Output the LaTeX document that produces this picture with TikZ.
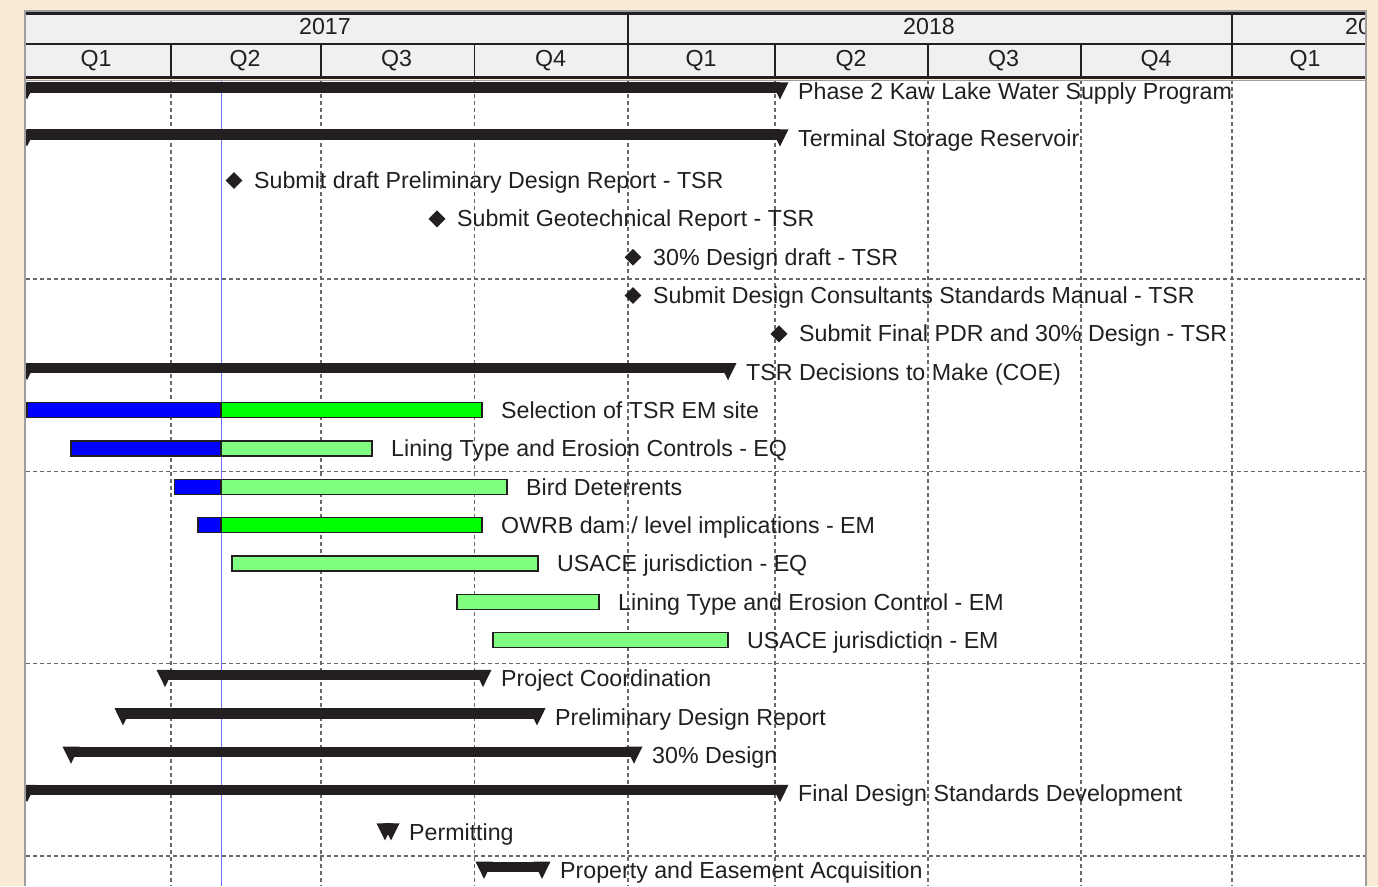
\documentclass[tikz,border=0pt]{standalone}
\usepackage{fontspec}
\setmainfont{Liberation Sans}
\usetikzlibrary{shapes.geometric}

\definecolor{pagebg}{RGB}{250,235,215}
\definecolor{hdrbg}{RGB}{240,240,242}
\definecolor{ink}{RGB}{35,31,32}
\definecolor{framegray}{RGB}{158,158,158}
\definecolor{gridgray}{RGB}{105,105,105}
\definecolor{todayblue}{RGB}{110,110,255}
\definecolor{donefill}{RGB}{0,0,255}
\definecolor{critfill}{RGB}{0,255,0}
\definecolor{taskfill}{RGB}{128,255,128}

\newcommand\chartfont{\fontsize{23.2}{27}\selectfont}

\tikzset{
  lbl/.style={anchor=base west, inner sep=0pt, text=ink, font=\chartfont},
  hdr/.style={anchor=center, inner sep=0pt, text=ink, font=\chartfont},
  gridline/.style={gridgray, line width=1.1pt, dash pattern=on 4pt off 3pt},
  barbox/.style={draw=ink, line width=1.4pt},
  mstone/.style={shape=diamond, fill=ink, inner sep=0pt, minimum width=17pt, minimum height=17pt},
  hdrrule/.style={ink, line width=2.5pt},
  hdrsep/.style={ink, line width=1.8pt},
}

% summary bar: name, start x, end x, text y, label
\newcommand\SummaryRow[5]{%
  \pgfmathsetmacro\sy{#4-3.5}%
  \fill[ink] (#2,\sy-5.2) rectangle (#3,\sy+5.2);
  \fill[ink] (#2-8.5,\sy-5.2) -- (#2+8.5,\sy-5.2) -- (#2,\sy+12) -- cycle;
  \fill[ink] (#3-8.5,\sy-5.2) -- (#3+8.5,\sy-5.2) -- (#3,\sy+12) -- cycle;
  \node[lbl] (#1) at (#3+18,#4+8.3) {#5};
}
% milestone: name, x, text y, label
\newcommand\MilestoneRow[4]{%
  \node[mstone] (#1m) at (#2,#3+0.5) {};
  \node[lbl] (#1) at (#2+20,#3+8.3) {#4};
}
% task bar: name, start x, progress x, end x, text y, fill colour, label
\newcommand\TaskRow[7]{%
  \draw[barbox, fill=#6] (#2,#5-7.5) rectangle (#4,#5+7.5);
  \ifdim #3pt>#2pt
    \draw[barbox, fill=donefill] (#2,#5-7.5) rectangle (#3,#5+7.5);
  \fi
  \node[lbl] (#1) at (#4+19,#5+8.3) {#7};
}

\begin{document}
\begin{tikzpicture}[x=1pt,y=-1pt]
\useasboundingbox (0,0) rectangle (1378,886);
\fill[pagebg] (0,0) rectangle (1378,886);

% chart body
\fill[white] (26,80) rectangle (1365,886);
\begin{scope}
  \clip (26,80) rectangle (1365,886);
  % quarter grid
  \foreach \qx in {171,321,474.5,628,775,928,1081,1232}
    \draw[gridline] (\qx,80) -- (\qx,886);
  % group separators every five rows
  \foreach \gy in {279,471.5,663.5,856}
    \draw[gridline] (26,\gy) -- (1365,\gy);
  % status date
  \draw[todayblue, line width=0.9pt] (221,80) -- (221,886);

  \SummaryRow{prog}{27}{780}{91}{Phase 2 Kaw Lake Water Supply Program}
  \SummaryRow{tsr}{27}{780}{138}{Terminal Storage Reservoir}
  \MilestoneRow{draftpdr}{234}{180}{Submit draft Preliminary Design Report - TSR}
  \MilestoneRow{geotech}{437}{218.35}{Submit Geotechnical Report - TSR}
  \MilestoneRow{draft30}{633}{256.7}{30\% Design draft - TSR}
  \MilestoneRow{stdman}{633}{295.05}{Submit Design Consultants Standards Manual - TSR}
  \MilestoneRow{finalpdr}{779}{333.4}{Submit Final PDR and 30\% Design - TSR}
  \SummaryRow{decide}{27}{728}{371.75}{TSR Decisions to Make (COE)}
  \TaskRow{emsite}{27}{221}{482}{410.1}{critfill}{Selection of TSR EM site}
  \TaskRow{liningeq}{71}{221}{372}{448.45}{taskfill}{Lining Type and Erosion Controls - EQ}
  \TaskRow{birds}{174.5}{221}{507}{486.8}{taskfill}{Bird Deterrents}
  \TaskRow{owrb}{198}{221}{482}{525.15}{critfill}{OWRB dam / level implications - EM}
  \TaskRow{usaceeq}{232}{0}{538}{563.5}{taskfill}{USACE jurisdiction - EQ}
  \TaskRow{liningem}{457}{0}{599}{601.85}{taskfill}{Lining Type and Erosion Control - EM}
  \TaskRow{usaceem}{493}{0}{728}{640.2}{taskfill}{USACE jurisdiction - EM}
  \SummaryRow{coord}{165}{483}{678.55}{Project Coordination}
  \SummaryRow{pdr}{123}{537}{716.9}{Preliminary Design Report}
  \SummaryRow{design30}{71}{634}{755.25}{30\% Design}
  \SummaryRow{stddev}{27}{780}{793.6}{Final Design Standards Development}
  \SummaryRow{permit}{385}{391}{831.95}{Permitting}
  \SummaryRow{property}{484}{542}{870.3}{Property and Easement Acquisition}
\end{scope}

% timescale header
\begin{scope}
  \clip (26,10) rectangle (1365,80);
  \fill[hdrbg] (26,13) rectangle (1365,78);
  \draw[hdrrule] (26,13.5) -- (1365,13.5);
  \draw[hdrrule] (26,44) -- (1365,44);
  \draw[hdrrule, line width=3pt] (26,77.5) -- (1365,77.5);
  \draw[framegray, line width=1.5pt] (26,80.5) -- (1365,80.5);
  \foreach \yx in {628,1232}
    \draw[hdrsep] (\yx,14) -- (\yx,44);
  \foreach \qx in {171,321,474.5,628,775,928,1081,1232}
    \draw[hdrsep] (\qx,44) -- (\qx,78);
  \node[hdr] (y2017) at (325,27) {2017};
  \node[hdr] (y2018) at (929,27) {2018};
  \node[hdr, anchor=west] (y2019) at (1345,27) {2019};
  \foreach \qc/\qn [count=\i] in {96/Q1,245/Q2,396.5/Q3,550.5/Q4,701/Q1,851/Q2,1003.5/Q3,1156/Q4,1305/Q1}
    \node[hdr] (q\i) at (\qc,60.5) {\qn};
\end{scope}

% outer frame
\draw[framegray, line width=2.5pt] (25.2,10.5) -- (25.2,886);
\draw[framegray, line width=2pt] (24,10.8) -- (1367,10.8);
\draw[framegray, line width=2.5pt] (1366,10.5) -- (1366,886);
\end{tikzpicture}
\end{document}
